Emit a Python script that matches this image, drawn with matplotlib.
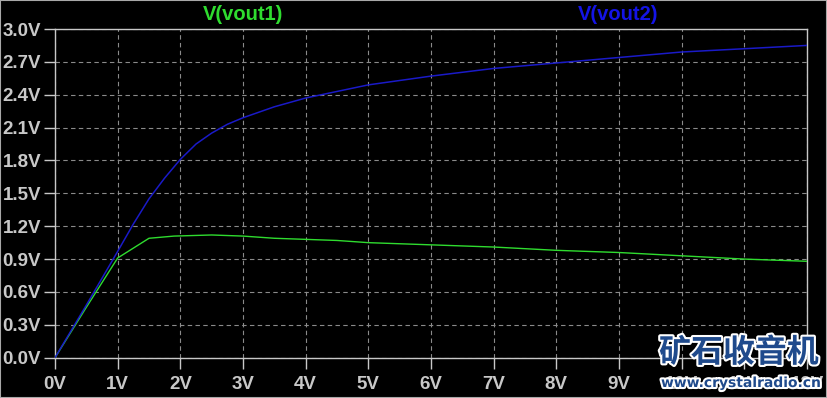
import matplotlib
matplotlib.use('Agg')
import matplotlib.pyplot as plt
import matplotlib.patheffects as pe
from matplotlib.patches import Rectangle

# sweep of the input voltage (V) and the two traces
vinBlue = [0, 0.5, 1.0, 1.25, 1.5, 1.75, 2.0, 2.25, 2.5, 2.75, 3.0, 3.5, 4.0, 4.5, 5.0, 6.0, 7.0, 8.0, 9.0, 10.0, 11.0, 12.0]
vout2 = [0, 0.48, 0.97, 1.22, 1.45, 1.64, 1.81, 1.95, 2.05, 2.13, 2.19, 2.29, 2.37, 2.43, 2.49, 2.57, 2.64, 2.69, 2.74, 2.79, 2.82, 2.85]

vinGreen = [0, 0.5, 1.0, 1.5, 1.9, 2.5, 3.0, 3.5, 4.0, 4.5, 5.0, 5.5, 6.0, 7.0, 8.0, 9.0, 10.0, 11.0, 12.0]
vout1 = [0, 0.46, 0.91, 1.09, 1.11, 1.12, 1.11, 1.09, 1.08, 1.07, 1.05, 1.04, 1.03, 1.01, 0.98, 0.96, 0.93, 0.90, 0.88]

xTicks = list(range(0, 13))
xLabels = ['%dV' % v for v in xTicks]
yTicks = [i * 0.3 for i in range(11)]
yLabels = ['%.1fV' % v for v in yTicks]

tickFont = dict(family='Liberation Sans', weight='bold', size=13.5)
gray = '#c8c8c8'

fig = plt.figure(figsize=(8.27, 3.98), dpi=100, facecolor='black')
ax = fig.add_axes([55 / 827, 40.3 / 398, 752 / 827, 328.7 / 398], facecolor='black')

ax.plot(vinGreen, vout1, color='#2fdc2f', linewidth=1.0, zorder=3)
ax.plot(vinBlue, vout2, color='#1a1ac8', linewidth=1.1, zorder=4)

ax.set_xlim(0, 12)
ax.set_ylim(0, 3.0)
ax.set_xticks(xTicks)
ax.set_xticklabels(xLabels, color=gray, **tickFont)
ax.set_yticks(yTicks)
ax.set_yticklabels(yLabels, color=gray, **tickFont)
ax.tick_params(axis='both', colors=gray, length=8, width=1)
ax.tick_params(axis='x', pad=5)
ax.tick_params(axis='y', pad=2)
for s in ax.spines.values():
    s.set_color(gray)
    s.set_linewidth(1.0)
ax.grid(True, color='#8a8a8a', linestyle=(0, (4, 3)), linewidth=0.8)
ax.set_axisbelow(True)

titleFont = dict(family='Liberation Sans', weight='bold', size=14.5, ha='center', va='center')
fig.text(243 / 827, 1 - 15 / 398, 'V(vout1)', color='#2fdc2f', **titleFont)
fig.text(618 / 827, 1 - 15 / 398, 'V(vout2)', color='#1414e6', **titleFont)

# outer frame
fig.patches.append(Rectangle((0, 0), 1, 1, transform=fig.transFigure, fill=False,
                             edgecolor='#a8a8a8', linewidth=1.5))

# watermark
stroke = [pe.withStroke(linewidth=3, foreground='white')]
fig.text(739 / 827, 1 - 353 / 398, '矿石收音机', color='#1f4a8c', fontsize=23,
         family=['Noto Sans CJK SC', 'DejaVu Sans'], weight='bold',
         ha='center', va='center', path_effects=stroke, zorder=10)
fig.text(741 / 827, 1 - 383 / 398, 'www.crystalradio.cn', color='#1f4a8c', fontsize=10,
         family='DejaVu Sans', weight='bold', ha='center', va='center',
         path_effects=stroke, zorder=10)

fig.savefig('out.png', dpi=100, facecolor='black')
